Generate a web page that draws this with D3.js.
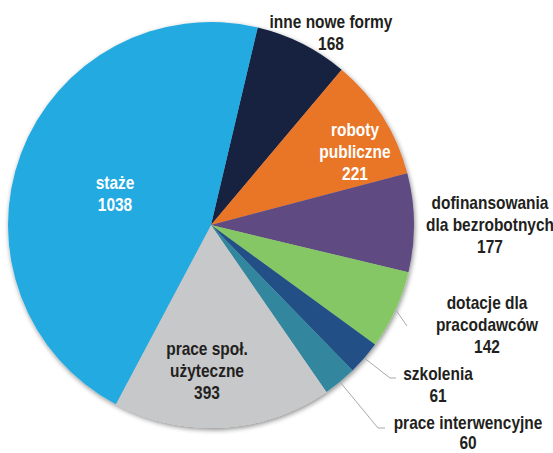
<!DOCTYPE html>
<html><head><meta charset="utf-8">
<script src="https://cdn.jsdelivr.net/npm/d3@7"></script>
<style>
html,body{margin:0;padding:0;background:#fff;}
svg{display:block;}
text{font-family:"Liberation Sans",Arial,sans-serif;font-weight:bold;font-size:18px;}
</style></head>
<body>
<script>
const categories = ["inne nowe formy","roboty publiczne","dofinansowania dla bezrobotnych","dotacje dla pracodawców","szkolenia","prace interwencyjne","prace społ. użyteczne","staże"];
const values = [168,221,177,142,61,60,393,1038];
const colors = ["#13213f","#e97428","#5e4b82","#86c765","#244f86","#33879e","#c7c8ca","#22aae1"];
const labelLines = [
  ["inne nowe formy","168"],
  ["roboty","publiczne","221"],
  ["dofinansowania","dla bezrobotnych","177"],
  ["dotacje dla","pracodawców","142"],
  ["szkolenia","61"],
  ["prace interwencyjne","60"],
  ["prace społ.","użyteczne","393"],
  ["staże","1038"]
];

const W = 553, H = 453;
const cx = 211, cy = 225, R = 203;
const svg = d3.select("body").append("svg").attr("width", W).attr("height", H);

const defs = svg.append("defs");
const f = defs.append("filter").attr("id","sh").attr("x","-10%").attr("y","-10%").attr("width","120%").attr("height","120%");
f.append("feGaussianBlur").attr("in","SourceAlpha").attr("stdDeviation",2.5);
f.append("feOffset").attr("dx",1).attr("dy",2).attr("result","b");
f.append("feComponentTransfer").append("feFuncA").attr("type","linear").attr("slope",0.45);
const m = f.append("feMerge"); m.append("feMergeNode"); m.append("feMergeNode").attr("in","SourceGraphic");

const start = 13.3 * Math.PI / 180;
const pie = d3.pie().sort(null).startAngle(start).endAngle(start + 2*Math.PI);
const arcs = pie(values);
const arc = d3.arc().innerRadius(0).outerRadius(R);

const g = svg.append("g").attr("transform", `translate(${cx},${cy})`);
g.append("g").attr("filter","url(#sh)")
  .selectAll("path").data(arcs).join("path")
  .attr("d", arc).attr("fill", (d,i) => colors[i]);

// label anchor positions (center x, first-line baseline, line height)
const labelPos = [
  {x:331, y:28, c:"#231f20", lh:22},
  {x:355, y:136, c:"#ffffff", lh:22},
  {x:490, y:209, c:"#231f20", lh:22},
  {x:487, y:309, c:"#231f20", lh:22},
  {x:438, y:380, c:"#231f20", lh:22},
  {x:468, y:429, c:"#231f20", lh:20},
  {x:207, y:355, c:"#231f20", lh:22},
  {x:115, y:189, c:"#ffffff", lh:22}
];
const sx = 0.86;
labelLines.forEach((lines, i) => {
  const p = labelPos[i];
  const t = svg.append("text").attr("text-anchor","middle").attr("fill", p.c)
    .attr("transform", `translate(${p.x},0) scale(${sx},1)`);
  lines.forEach((ln, k) => {
    t.append("tspan").attr("x", 0).attr("y", p.y + k*p.lh).text(ln);
  });
});

// leader lines
const line = d3.line();
const leaders = [
  {i:3, pts:[[0,0],[407,326]]},
  {i:4, pts:[[0,0],[390,378],[396,378]]},
  {i:5, pts:[[0,0],[378,428],[385,428]]}
];
leaders.forEach(l => {
  const a = arcs[l.i];
  const mid = (a.startAngle + a.endAngle)/2;
  const p0 = [cx + (R+1)*Math.sin(mid), cy - (R+1)*Math.cos(mid)];
  const pts = [p0, ...l.pts.slice(1)];
  svg.append("path").attr("d", line(pts)).attr("fill","none").attr("stroke","#a7a9ac").attr("stroke-width",1);
});
</script>
</body></html>
